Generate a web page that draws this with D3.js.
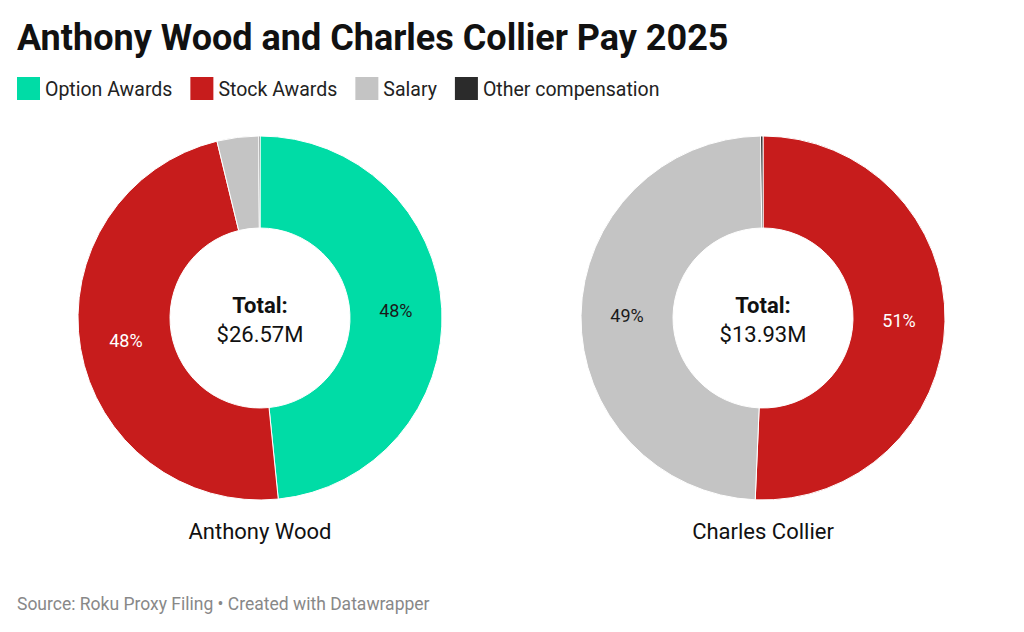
<!DOCTYPE html>
<html><head><meta charset="utf-8">
<script src="https://cdn.jsdelivr.net/npm/d3@7"></script>
<style>body{margin:0;background:#fff;font-family:Roboto,sans-serif}</style>
</head><body>
<svg id="c" width="1024" height="632"></svg>
<script>
// data ($M)
var categories = ['Option Awards', 'Stock Awards', 'Salary', 'Other compensation'];
var colors = ['#00dca6', '#c71c1c', '#c4c4c4', '#2b2b2b'];
var labelColors = ['#1a1a1a', '#ffffff', '#1a1a1a', '#ffffff'];
var people = ['Anthony Wood', 'Charles Collier'];
var woodValues = [12.86, 12.70, 0.98, 0.03];
var collierValues = [0, 7.06, 6.84, 0.03];
var totals = ['$26.57M', '$13.93M'];

var svg = d3.select('#c');
svg.append('text').attr('x', 17).attr('y', 50).attr('font-size', 36).attr('font-weight', 700)
    .attr('fill', '#111').text('Anthony Wood and Charles Collier Pay 2025');

// legend
var lx = 17;
categories.forEach(function(c, i) {
    svg.append('rect').attr('x', lx).attr('y', 77).attr('width', 23).attr('height', 23).attr('fill', colors[i]);
    var t = svg.append('text').attr('x', lx + 28).attr('y', 96).attr('font-size', 19.5).attr('fill', '#222').text(c);
    lx += 28 + t.node().getComputedTextLength() + 18;
});

var pie = d3.pie().sort(null).value(function(d) { return d; });
var arc = d3.arc().innerRadius(90).outerRadius(182);
var labelArc = d3.arc().innerRadius(136).outerRadius(136);

[woodValues, collierValues].forEach(function(vals, k) {
    var cx = k ? 763 : 260, cy = 318;
    var g = svg.append('g').attr('transform', 'translate(' + cx + ',' + cy + ')');
    var sum = d3.sum(vals);
    var arcs = pie(vals);
    g.selectAll('path').data(arcs).enter().append('path')
        .attr('d', arc)
        .attr('fill', function(d, i) { return colors[i]; })
        .attr('stroke', '#fff').attr('stroke-width', 1);
    g.selectAll('text.l').data(arcs.filter(function(d) { return d.value / sum > 0.1; }))
        .enter().append('text').attr('class', 'l')
        .attr('transform', function(d) { return 'translate(' + labelArc.centroid(d) + ')'; })
        .attr('text-anchor', 'middle').attr('dy', '0.35em').attr('font-size', 18)
        .attr('fill', function(d) { return labelColors[d.index]; })
        .text(function(d) { return Math.round(d.value / sum * 100) + '%'; });
    g.append('text').attr('text-anchor', 'middle').attr('y', -5).attr('font-size', 22)
        .attr('font-weight', 700).attr('fill', '#111').text('Total:');
    g.append('text').attr('text-anchor', 'middle').attr('y', 24).attr('font-size', 22)
        .attr('fill', '#111').text(totals[k]);
    svg.append('text').attr('x', cx).attr('y', 539).attr('text-anchor', 'middle')
        .attr('font-size', 22).attr('fill', '#111').text(people[k]);
});

svg.append('text').attr('x', 17).attr('y', 610).attr('font-size', 17.5).attr('fill', '#888')
    .text('Source: Roku Proxy Filing • Created with Datawrapper');
</script>
</body></html>
